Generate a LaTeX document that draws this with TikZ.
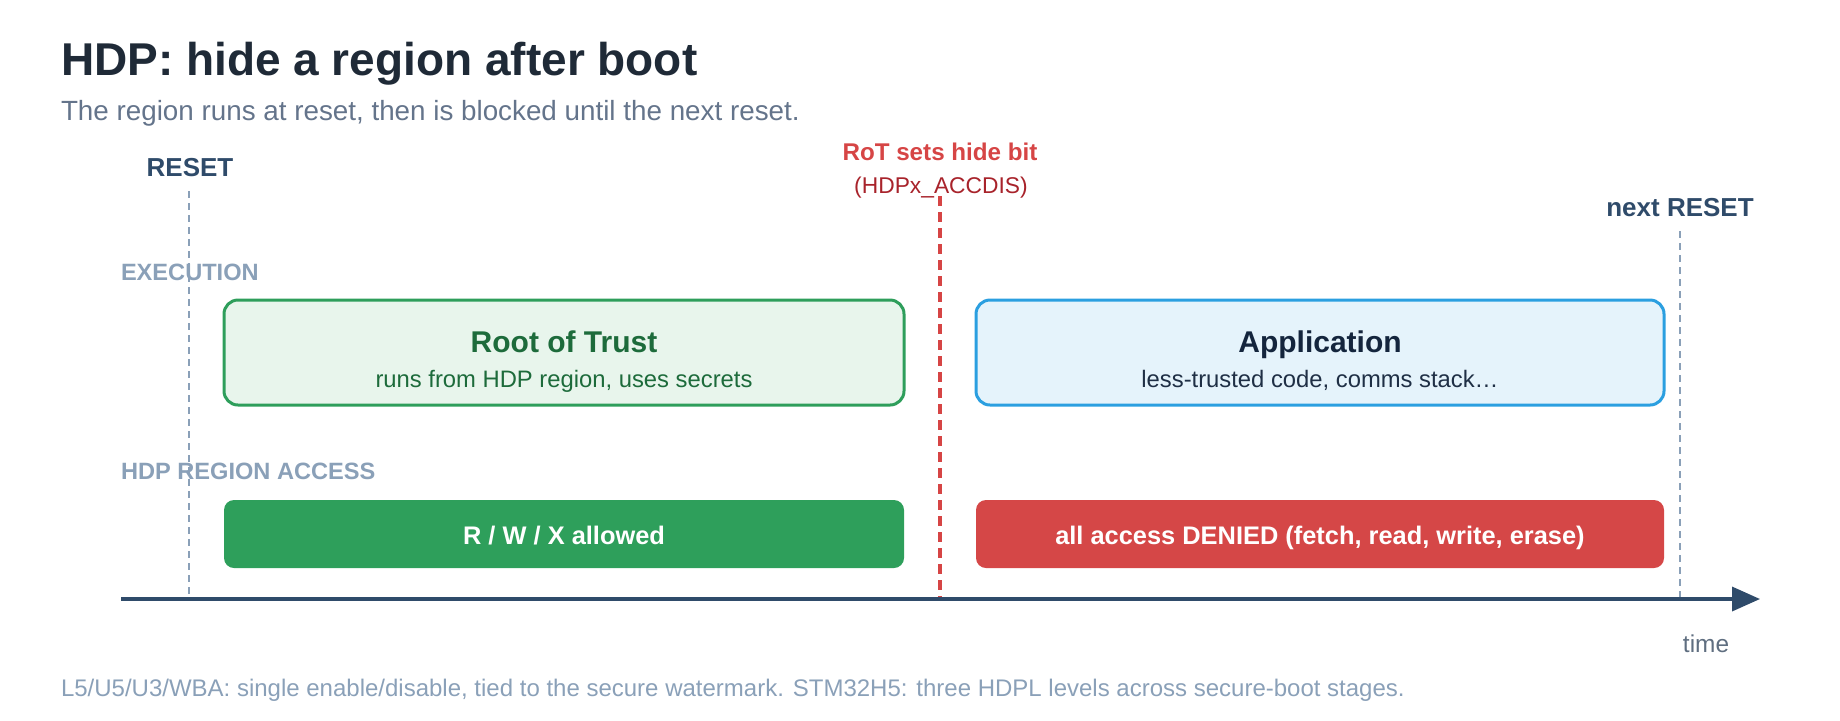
\documentclass[tikz,border=0pt]{standalone}
\usepackage{fontspec}
\setmainfont{Liberation Sans}
\usetikzlibrary{arrows.meta}
\definecolor{titlec}{HTML}{1F2A37}
\definecolor{subc}{HTML}{64748B}
\definecolor{slate}{HTML}{2F4B6A}
\definecolor{lanec}{HTML}{8AA0B8}
\definecolor{redc}{HTML}{D64545}
\definecolor{darkred}{HTML}{A8232B}
\definecolor{rotfill}{HTML}{E8F5EC}
\definecolor{rotdraw}{HTML}{2E9E5B}
\definecolor{rottext}{HTML}{1D6B3B}
\definecolor{appfill}{HTML}{E5F3FB}
\definecolor{appdraw}{HTML}{2B9FE0}
\definecolor{apptitle}{HTML}{14253D}
\definecolor{apptext}{HTML}{1F2F45}
\definecolor{greenbar}{HTML}{2E9F5B}
\definecolor{redbar}{HTML}{D54747}
\definecolor{timec}{HTML}{5F6E80}
\begin{document}
\begin{tikzpicture}[x=0.5pt,y=-0.5pt,
  txt/.style={inner sep=0pt, outer sep=0pt, anchor=base},
  txtw/.style={inner sep=0pt, outer sep=0pt, anchor=base west},
  marker/.style={inner sep=0pt, outer sep=0pt, anchor=base, font=\bfseries\fontsize{13}{15}\selectfont, text=slate},
  lanelabel/.style={txtw, font=\bfseries\fontsize{11.8}{14}\selectfont, text=lanec},
  greyline/.style={draw=lanec, line width=1.4pt, dash pattern=on 3.5pt off 2.5pt},
  redline/.style={draw=redc, line width=1.8pt, dash pattern=on 5pt off 3pt},
  phasebox/.style={rectangle, rounded corners=7pt, line width=1.5pt, minimum height=52.5pt, inner sep=0pt},
  accessbar/.style={rectangle, rounded corners=5pt, draw=none, minimum height=34pt, inner sep=0pt},
  boxtitle/.style={txt, font=\bfseries\fontsize{15}{18}\selectfont},
  boxsub/.style={txt, font=\fontsize{11.9}{14}\selectfont},
  bartext/.style={txt, font=\bfseries\fontsize{12.7}{15}\selectfont, text=white}
]
\useasboundingbox (0,0) rectangle (1840,720);

% title and subtitle
\node[txtw, font=\bfseries\fontsize{23}{28}\selectfont, text=titlec] (title) at (61,75) {HDP: hide a region after boot};
\node[txtw, font=\fontsize{13.9}{17}\selectfont, text=subc] (subtitle) at (61,120) {The region runs at reset, then is blocked until the next reset.};

% markers
\node[marker] (reset) at (190,176) {RESET};
\node[marker] (nextreset) at (1680,216) {next RESET};
\node[txt, font=\bfseries\fontsize{12.1}{15}\selectfont, text=redc] (rotsets) at (940,160) {RoT sets hide bit};
\node[txt, font=\fontsize{11.4}{14}\selectfont, text=darkred] (accdis) at (941,193) {(HDPx\_ACCDIS)};

% lane labels
\node[lanelabel] (exec) at (121,280) {EXECUTION};
\node[lanelabel] (access) at (121,479) {HDP REGION ACCESS};

% timeline coordinates
\coordinate (axisL) at (121,599);
\coordinate (axisR) at (1760,599);
\coordinate (resetTop) at (189,191);
\coordinate (resetBot) at (189,599);
\coordinate (hideTop) at (940,196);
\coordinate (hideBot) at (940,601);
\coordinate (nextTop) at (1680,231);
\coordinate (nextBot) at (1680,599);

% dashed event lines
\draw[greyline] (resetTop) -- (resetBot);
\draw[greyline] (nextTop) -- (nextBot);
\draw[redline] (hideTop) -- (hideBot);

% execution lane
\node[phasebox, fill=rotfill, draw=rotdraw, minimum width=340pt] (rot) at (564,352.5) {};
\node[boxtitle, text=rottext] (rottitle) at (564,352) {Root of Trust};
\node[boxsub, text=rottext] (rotsub) at (564,387) {runs from HDP region, uses secrets};

\node[phasebox, fill=appfill, draw=appdraw, minimum width=344pt] (app) at (1320,352.5) {};
\node[boxtitle, text=apptitle] (apptitle) at (1320,352) {Application};
\node[boxsub, text=apptext] (appsub) at (1320,387) {less-trusted code, comms stack…};

% access lane
\node[accessbar, fill=greenbar, minimum width=340pt] (allowed) at (564,534) {};
\node[bartext] (allowedtxt) at (564,544) {R / W / X allowed};
\node[accessbar, fill=redbar, minimum width=344pt] (denied) at (1320,534) {};
\node[bartext] (deniedtxt) at (1320,544) {all access DENIED (fetch, read, write, erase)};

% time axis
\draw[draw=slate, line width=1.75pt, -{Triangle[length=14pt,width=12pt]}] (axisL) -- (axisR);
\node[txt, font=\fontsize{12.2}{15}\selectfont, text=timec] (time) at (1706,652) {time};

% footnote
\node[txtw, font=\fontsize{12}{14}\selectfont, text=lanec] (foot) at (61,696) {L5/U5/U3/WBA: single enable/disable, tied to the secure watermark. STM32H5: three HDPL levels across secure-boot stages.};
\end{tikzpicture}
\end{document}
